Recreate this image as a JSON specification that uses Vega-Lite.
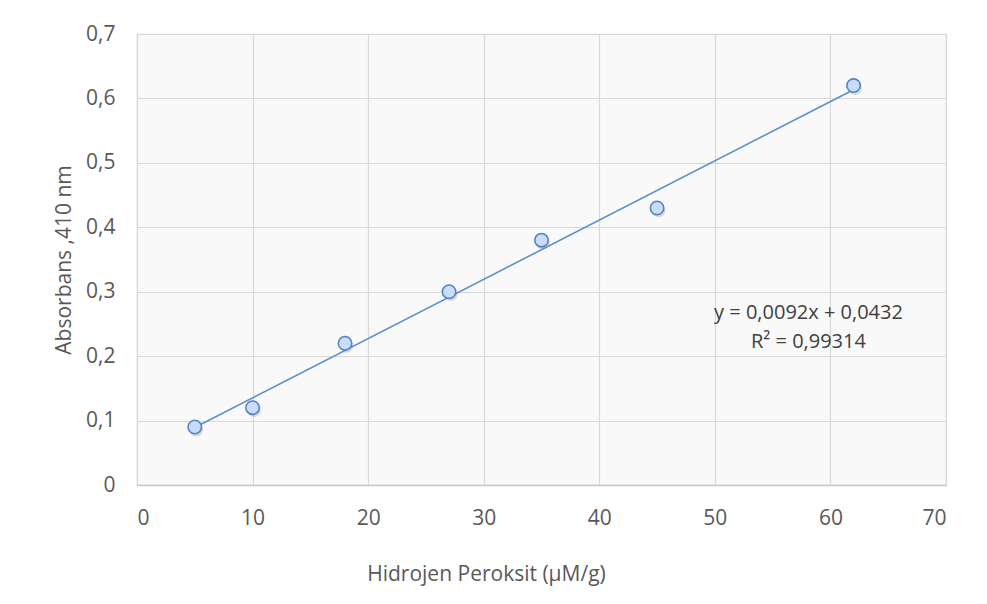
{
  "$schema": "https://vega.github.io/schema/vega-lite/v6.json",
  "width": 809,
  "height": 451,
  "autosize": {"type": "none"},
  "padding": {"left": 137, "top": 34, "right": 41, "bottom": 119},
  "background": "white",
  "config": {
    "font": "Open Sans",
    "locale": {"number": {"decimal": ",", "thousands": ".", "grouping": [3], "currency": ["", ""]}},
    "view": {"fill": "#f9f9f9", "stroke": "#d9d9d9", "strokeWidth": 1.2}
  },
  "datasets": {
    "points": [
      {"konsantrasyon": 5, "absorbans": 0.09},
      {"konsantrasyon": 10, "absorbans": 0.12},
      {"konsantrasyon": 18, "absorbans": 0.22},
      {"konsantrasyon": 27, "absorbans": 0.30},
      {"konsantrasyon": 35, "absorbans": 0.38},
      {"konsantrasyon": 45, "absorbans": 0.43},
      {"konsantrasyon": 62, "absorbans": 0.62}
    ],
    "trend": [
      {"konsantrasyon": 5, "absorbans": 0.0892},
      {"konsantrasyon": 62, "absorbans": 0.6136}
    ],
    "labels": [
      {"konsantrasyon": 58.1, "absorbans": 0.267, "text": "y = 0,0092x + 0,0432"},
      {"konsantrasyon": 58.1, "absorbans": 0.222, "text": "R² = 0,99314"}
    ]
  },
  "encoding": {
    "x": {
      "field": "konsantrasyon",
      "type": "quantitative",
      "scale": {"domain": [0, 70], "nice": false, "zero": true},
      "axis": {
        "title": "Hidrojen Peroksit (µM/g)",
        "values": [0, 10, 20, 30, 40, 50, 60, 70],
        "format": "d",
        "grid": true,
        "gridColor": "#d9d9d9",
        "gridWidth": 1.2,
        "domainColor": "#c8c8c8",
        "domainWidth": 1.5,
        "ticks": false,
        "labelPadding": 22,
        "labelFontSize": 21,
        "labelColor": "#595959",
        "titleFontSize": 21,
        "titleFontWeight": "normal",
        "titleColor": "#595959",
        "titleX": 349,
        "titlePadding": 35
      }
    },
    "y": {
      "field": "absorbans",
      "type": "quantitative",
      "scale": {"domain": [0, 0.7], "nice": false},
      "axis": {
        "title": "Absorbans ,410 nm",
        "values": [0, 0.1, 0.2, 0.3, 0.4, 0.5, 0.6, 0.7],
        "format": ".1~f",
        "grid": true,
        "gridColor": "#d9d9d9",
        "gridWidth": 1.2,
        "domain": false,
        "ticks": false,
        "labelPadding": 22,
        "labelFontSize": 21,
        "labelColor": "#595959",
        "titleFontSize": 21,
        "titleFontWeight": "normal",
        "titleColor": "#595959",
        "titlePadding": 11
      }
    }
  },
  "layer": [
    {
      "data": {"name": "trend"},
      "mark": {"type": "line", "color": "#5b8fcb", "strokeWidth": 1.6}
    },
    {
      "data": {"name": "points"},
      "mark": {"type": "point", "shape": "circle", "filled": true, "size": 190, "fill": "#8a8a8a", "opacity": 0.3, "xOffset": 1.5, "yOffset": 2.5}
    },
    {
      "data": {"name": "points"},
      "mark": {"type": "point", "shape": "circle", "filled": true, "size": 180, "fill": "#c9ddfa", "fillOpacity": 1, "stroke": "#5584c2", "strokeWidth": 1.6, "opacity": 1}
    },
    {
      "data": {"name": "labels"},
      "mark": {"type": "text", "fontSize": 20, "color": "#404040", "align": "center", "baseline": "middle"},
      "encoding": {"text": {"field": "text"}}
    }
  ]
}
